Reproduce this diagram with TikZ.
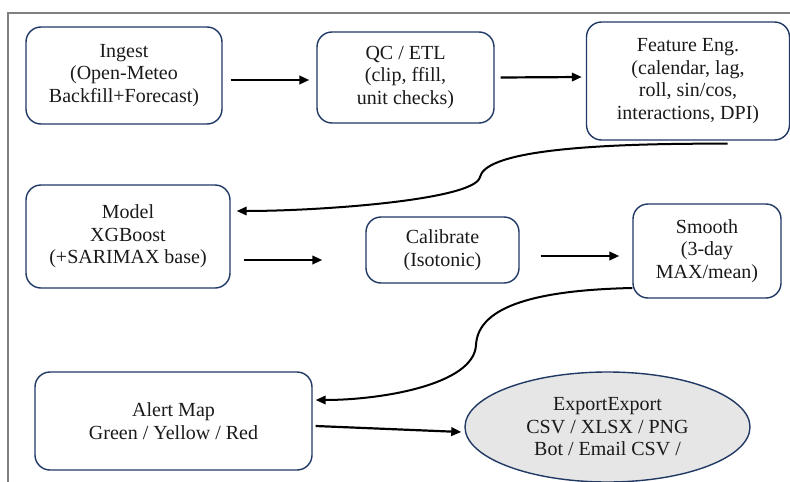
\documentclass[tikz,border=0pt]{standalone}
\usepackage{fontspec}
\setmainfont{Liberation Serif}
\newfontfamily\fuenteserif{Liberation Serif}
\usetikzlibrary{arrows.meta,positioning,shapes.geometric}
\definecolor{cborde}{HTML}{203864}
\definecolor{cmarco}{HTML}{808080}
\definecolor{cexport}{HTML}{E6E6E6}
\definecolor{ctexto}{HTML}{1A1A1A}
\tikzset{
  caja/.style={draw=cborde,fill=white,rounded corners=15pt,align=center,
               line width=1.4pt,text=ctexto,inner sep=2pt,
               font=\fuenteserif\fontsize{20}{22.5}\selectfont},
  salida/.style={caja,ellipse,fill=cexport},
  flecha/.style={-{Triangle[length=10pt,width=8.5pt]},line width=2.2pt,draw=black},
  curva/.style={flecha,line width=2pt},
  marco/.style={draw=cmarco,line width=1.3pt},
}
\begin{document}
\begin{tikzpicture}[x=1pt,y=-1pt]
\useasboundingbox (0,0) rectangle (790,482);
\draw[marco] (8,490) -- (8,13) -- (800,13);

\node[caja,minimum width=196pt,minimum height=97pt] (ingest) at (124,75.5)
  {Ingest\\(Open-Meteo\\Backfill+Forecast)};
\node[caja,minimum width=177pt,minimum height=91pt] (qc) at (405.5,77.5)
  {QC / ETL\\(clip, ffill,\\unit checks)};
\node[caja,minimum width=203pt,minimum height=118pt] (feat) at (688,81)
  {Feature Eng.\\(calendar, lag,\\roll, sin/cos,\\interactions, DPI)};

\node[caja,minimum width=204pt,minimum height=103pt] (model) at (128,236.5)
  {Model\\XGBoost\\(+SARIMAX base)};
\node[caja,minimum width=153pt,minimum height=66pt] (calib) at (442.5,250)
  {Calibrate\\(Isotonic)};
\node[caja,minimum width=148pt,minimum height=94pt] (smooth) at (707,251)
  {Smooth\\(3-day\\MAX/mean)};

\node[caja,minimum width=277pt,minimum height=98pt] (alert) at (173.5,421)
  {Alert Map\\Green / Yellow / Red};
\node[salida,minimum width=285pt,minimum height=110pt] (export) at (607.5,427)
  {ExportExport\\CSV / XLSX / PNG\\Bot / Email CSV /};

\draw[flecha] ([xshift=8pt,yshift=-4.5pt]ingest.east) -- ([xshift=-7pt,yshift=-2.5pt]qc.west);
\draw[flecha] ([xshift=6pt]qc.east) -- ([xshift=-4pt,yshift=4pt]feat.west);
% conector curvo hacia la segunda fila
\draw[curva] ([xshift=39.5pt,yshift=-3pt]feat.south)
  .. controls (560,143) and (485,155) .. (480,177)
  .. controls (475,200) and (320,211) .. ([xshift=6pt,yshift=25.5pt]model.east);
\draw[flecha] ([xshift=13pt,yshift=-23.5pt]model.east) -- ([xshift=-43pt,yshift=-10pt]calib.west);
\draw[flecha] ([xshift=21pt,yshift=-6pt]calib.east) -- ([xshift=-13pt,yshift=-5pt]smooth.west);
\draw[curva] ([yshift=-37pt]smooth.west)
  .. controls (540,290) and (478,305) .. (476,345)
  .. controls (474,385) and (380,400) .. ([xshift=3pt,yshift=21pt]alert.east);
\draw[flecha] ([xshift=3pt,yshift=-5pt]alert.east) -- ([xshift=-3pt,yshift=-5pt]export.west);

\end{tikzpicture}
\end{document}
